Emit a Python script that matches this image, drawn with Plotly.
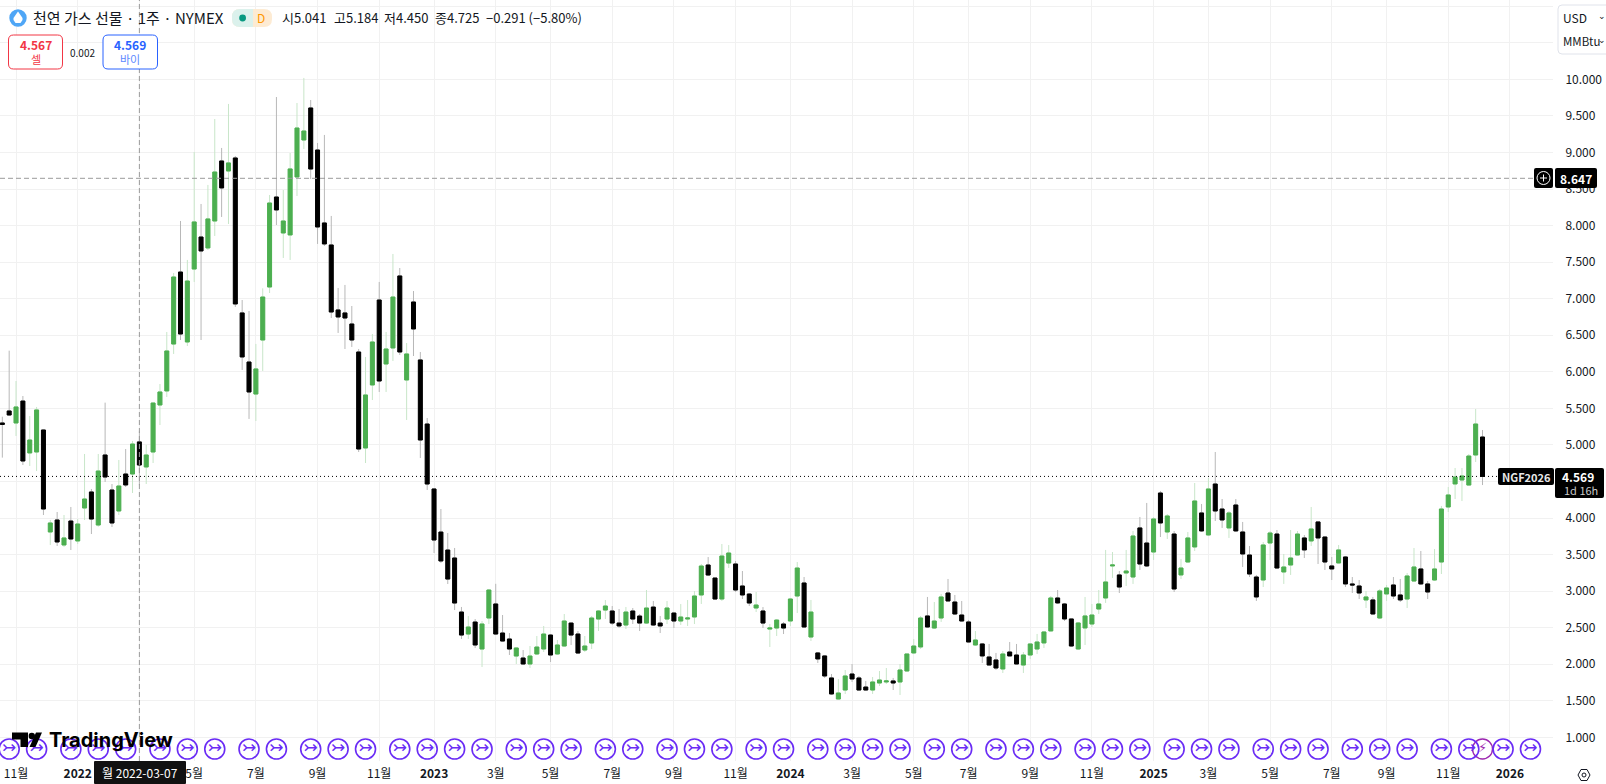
import numpy as np
import pandas as pd
import plotly.graph_objects as go

# weekly bars, NGF2026 natural gas
first_week = "2021-10-18"
opens = [
    5.30, 5.464, 5.30, 5.60, 4.89, 4.903, 5.204, 3.809, 3.973, 3.631,
    3.959, 3.686, 4.137, 4.356, 3.904, 4.862, 4.383, 4.096, 4.602, 4.602,
    5.041, 4.698, 4.903, 5.546, 5.738, 6.38, 7.365, 6.408, 7.406, 7.844,
    7.694, 8.063, 8.884, 8.747, 8.925, 6.805, 6.134, 5.696, 6.435, 7.16,
    8.391, 7.899, 7.872, 8.665, 9.171, 9.609, 9.034, 8.036, 7.735, 6.846,
    6.805, 6.654, 6.271, 4.958, 5.82, 6.982, 6.107, 6.326, 7.311, 5.888,
    6.955, 6.162, 5.286, 4.397, 3.808, 3.562, 3.453, 2.714, 2.413, 2.577,
    2.208, 2.632, 2.824, 2.427, 2.345, 2.112, 2.085, 2.003, 2.14, 2.208,
    2.399, 2.14, 2.249, 2.563, 2.413, 2.194, 2.29, 2.618, 2.741, 2.728,
    2.563, 2.536, 2.728, 2.659, 2.563, 2.782, 2.563, 2.618, 2.70, 2.591,
    2.618, 2.646, 2.947, 3.357, 3.179, 2.892, 3.384, 3.371, 3.07, 2.96,
    2.769, 2.728, 2.481, 2.495, 2.55, 2.591, 2.933, 3.111, 2.372, 2.154,
    2.113, 1.812, 1.524, 1.647, 1.866, 1.812, 1.688, 1.647, 1.743, 1.757,
    1.771, 1.757, 1.907, 2.154, 2.236, 2.66, 2.495, 2.632, 2.974, 2.851,
    2.673, 2.578, 2.263, 2.277, 2.099, 2.058, 1.935, 2.167, 2.126, 1.989,
    2.126, 2.208, 2.291, 2.455, 2.906, 2.824, 2.619, 2.208, 2.496, 2.55,
    2.755, 2.906, 3.344, 3.221, 3.248, 3.193, 3.864, 3.658, 3.535, 4.342,
    3.809, 3.781, 3.221, 3.398, 3.604, 4.069, 3.768, 4.465, 4.123, 3.864,
    4.178, 3.809, 3.494, 3.193, 3.152, 3.658, 3.781, 3.262, 3.357, 3.494,
    3.727, 3.686, 3.946, 3.74, 3.344, 3.385, 3.467, 3.098, 3.07, 2.879,
    2.879, 2.632, 2.961, 3.084, 2.947, 2.892, 3.138, 3.303, 3.098, 3.152,
    3.398, 4.151, 4.466, 4.52, 4.451, 4.862, 5.108,
]
highs = [
    5.386, 6.289, 5.874, 5.669, 5.395, 5.519, 5.21, 3.973, 4.082, 4.041,
    4.151, 3.986, 4.876, 4.397, 4.876, 5.578, 4.465, 4.794, 4.944, 5.054,
    5.184, 5.0, 5.58, 5.833, 6.545, 7.352, 8.063, 7.53, 9.007, 8.296,
    8.556, 9.458, 9.062, 9.664, 8.952, 6.982, 6.832, 6.381, 7.142, 8.419,
    9.759, 8.487, 8.993, 9.677, 10.02, 9.718, 9.13, 9.24, 8.132, 7.147,
    7.188, 6.9, 6.312, 6.203, 6.517, 7.229, 6.545, 7.612, 7.42, 6.394,
    7.105, 6.271, 5.368, 4.41, 4.123, 3.795, 3.59, 2.783, 2.659, 2.618,
    2.591, 3.029, 3.10, 2.673, 2.427, 2.23, 2.194, 2.249, 2.386, 2.523,
    2.413, 2.331, 2.687, 2.57, 2.454, 2.386, 2.659, 2.741, 2.878, 2.796,
    2.755, 2.783, 2.769, 2.687, 3.015, 2.865, 2.659, 2.865, 2.714, 2.823,
    2.878, 3.001, 3.371, 3.466, 3.18, 3.644, 3.63, 3.412, 3.275, 2.97,
    2.988, 2.782, 2.55, 2.618, 2.577, 2.906, 3.398, 3.193, 2.879, 2.167,
    2.12, 1.866, 1.798, 1.921, 2.003, 1.839, 1.771, 1.825, 1.907, 1.948,
    1.812, 2.003, 2.14, 2.345, 2.66, 2.92, 2.851, 2.961, 3.166, 2.947,
    2.865, 2.605, 2.454, 2.29, 2.277, 2.154, 2.181, 2.304, 2.277, 2.167,
    2.28, 2.414, 2.455, 2.933, 3.015, 2.838, 2.62, 2.578, 2.92, 2.824,
    3.015, 3.563, 3.535, 3.275, 3.563, 3.822, 4.014, 4.206, 4.014, 4.37,
    4.055, 3.822, 3.44, 3.809, 4.479, 4.192, 4.548, 4.903, 4.26, 4.096,
    4.26, 3.946, 3.617, 3.221, 3.672, 3.822, 3.836, 3.508, 3.836, 3.822,
    3.768, 4.151, 3.95, 3.745, 3.467, 3.631, 3.481, 3.193, 3.152, 3.002,
    2.92, 3.029, 3.084, 3.193, 3.166, 3.248, 3.59, 3.549, 3.138, 3.576,
    4.165, 4.424, 4.684, 4.684, 4.875, 5.491, 5.204,
]
lows = [
    4.826, 5.40, 5.122, 4.725, 4.711, 4.643, 4.041, 3.631, 3.617, 3.603,
    3.562, 3.644, 3.973, 3.781, 3.88, 4.493, 3.877, 4.041, 4.424, 4.342,
    4.45, 4.465, 4.752, 5.272, 5.655, 6.244, 6.435, 6.353, 7.229, 6.435,
    7.666, 7.858, 8.118, 8.022, 6.887, 6.025, 5.355, 5.327, 6.011, 7.078,
    8.008, 7.557, 7.53, 8.405, 9.048, 8.638, 7.749, 7.721, 6.736, 6.531,
    6.312, 6.34, 4.903, 4.752, 5.614, 5.724, 5.724, 6.148, 6.23, 5.341,
    6.216, 4.821, 4.383, 3.521, 3.384, 3.097, 2.741, 2.345, 2.345, 2.222,
    1.962, 2.55, 2.40, 2.31, 2.126, 2.003, 1.989, 1.948, 2.126, 2.167,
    2.03, 2.13, 2.24, 2.263, 2.14, 2.167, 2.208, 2.454, 2.618, 2.536,
    2.495, 2.481, 2.55, 2.454, 2.55, 2.523, 2.427, 2.55, 2.495, 2.536,
    2.523, 2.55, 2.824, 3.206, 2.878, 2.865, 3.316, 2.988, 2.892, 2.796,
    2.714, 2.495, 2.235, 2.386, 2.413, 2.523, 2.70, 2.50, 2.318, 2.017,
    1.812, 1.579, 1.52, 1.593, 1.757, 1.64, 1.64, 1.593, 1.702, 1.73,
    1.647, 1.579, 1.90, 2.14, 2.208, 2.50, 2.482, 2.578, 2.86, 2.673,
    2.585, 2.30, 2.249, 2.017, 1.985, 1.921, 1.88, 2.11, 2.0, 1.88,
    2.072, 2.14, 2.222, 2.45, 2.824, 2.591, 2.24, 2.194, 2.263, 2.509,
    2.687, 2.838, 3.18, 2.974, 3.07, 3.098, 3.289, 3.33, 3.426, 3.74,
    3.713, 2.988, 3.166, 3.39, 3.549, 3.809, 3.754, 3.959, 3.864, 3.727,
    3.809, 3.33, 3.193, 2.865, 3.056, 3.426, 3.303, 3.098, 3.221, 3.49,
    3.453, 3.617, 3.371, 3.289, 3.152, 3.38, 3.056, 2.974, 2.892, 2.769,
    2.68, 2.619, 2.865, 2.892, 2.851, 2.769, 3.13, 3.084, 2.892, 3.138,
    3.234, 4.082, 4.26, 4.232, 4.445, 4.766, 4.451,
]
closes = [
    5.28, 5.409, 5.519, 4.78, 5.067, 5.478, 4.123, 3.932, 3.672, 3.727,
    3.713, 3.918, 4.26, 3.986, 4.643, 4.561, 3.932, 4.438, 4.452, 5.012,
    4.725, 4.862, 5.573, 5.724, 6.285, 7.297, 6.517, 7.242, 8.05, 7.653,
    8.091, 8.733, 8.515, 8.857, 6.928, 6.203, 5.724, 6.039, 7.023, 8.309,
    8.214, 8.063, 8.775, 9.335, 9.294, 8.774, 7.981, 7.749, 6.818, 6.75,
    6.736, 6.435, 4.944, 5.683, 6.408, 5.874, 6.312, 7.023, 6.271, 6.244,
    6.586, 5.067, 4.465, 3.699, 3.412, 3.165, 2.837, 2.399, 2.509, 2.263,
    2.55, 3.015, 2.413, 2.317, 2.208, 2.222, 2.003, 2.112, 2.235, 2.413,
    2.126, 2.263, 2.591, 2.399, 2.153, 2.249, 2.632, 2.728, 2.796, 2.563,
    2.523, 2.714, 2.618, 2.563, 2.769, 2.536, 2.523, 2.769, 2.591, 2.646,
    2.632, 2.933, 3.343, 3.22, 2.892, 3.48, 3.521, 3.015, 2.947, 2.837,
    2.81, 2.563, 2.495, 2.604, 2.495, 2.892, 3.316, 2.509, 2.714, 2.072,
    1.839, 1.593, 1.606, 1.839, 1.798, 1.647, 1.647, 1.757, 1.784, 1.771,
    1.743, 1.921, 2.14, 2.249, 2.632, 2.509, 2.591, 2.92, 2.865, 2.687,
    2.591, 2.304, 2.331, 2.113, 1.989, 1.948, 2.14, 2.113, 2.003, 2.126,
    2.277, 2.304, 2.441, 2.906, 2.838, 2.619, 2.249, 2.564, 2.66, 2.673,
    2.824, 3.125, 3.357, 3.056, 3.275, 3.754, 3.371, 3.344, 3.987, 3.932,
    4.028, 3.029, 3.316, 3.727, 4.233, 3.823, 4.397, 4.096, 3.973, 4.069,
    3.823, 3.508, 3.234, 2.92, 3.631, 3.795, 3.316, 3.33, 3.453, 3.781,
    3.563, 3.85, 3.727, 3.398, 3.303, 3.563, 3.098, 3.084, 2.974, 2.92,
    2.687, 3.002, 3.043, 2.933, 2.879, 3.207, 3.33, 3.098, 2.988, 3.303,
    4.123, 4.315, 4.561, 4.575, 4.848, 5.286, 4.569,
]

# x axis ticks (the first March label sits under the crosshair date tag)
tick_dates = [
    "2021-11-01", "2022-01-03", "2022-03-07", "2022-05-02", "2022-07-04", "2022-09-05", "2022-11-07",
    "2023-01-02", "2023-03-06", "2023-05-01", "2023-07-03", "2023-09-04", "2023-11-06",
    "2024-01-01", "2024-03-04", "2024-05-06", "2024-07-01", "2024-09-02", "2024-11-04",
    "2025-01-06", "2025-03-03", "2025-05-05", "2025-07-07", "2025-09-01", "2025-11-03", "2026-01-05",
]
tick_labels = [
    "11월", "<b>2022</b>", "", "5월", "7월", "9월", "11월",
    "<b>2023</b>", "3월", "5월", "7월", "9월", "11월",
    "<b>2024</b>", "3월", "5월", "7월", "9월", "11월",
    "<b>2025</b>", "3월", "5월", "7월", "9월", "11월", "<b>2026</b>",
]
price_ticks = [1.0, 1.5, 2.0, 2.5, 3.0, 3.5, 4.0, 4.5, 5.0, 5.5, 6.0, 6.5, 7.0, 7.5, 8.0, 8.5, 9.0, 9.5, 10.0, 10.5, 11.0]
price_labels = [f"{v:.3f}" if v <= 10 and v != 4.5 else "" for v in price_ticks]

# contract roll marks along the bottom of the chart
roll_dates = [
    "2021-10-25", "2021-11-22", "2021-12-27", "2022-01-24", "2022-02-21", "2022-03-28", "2022-04-25",
    "2022-05-23", "2022-06-27", "2022-07-25", "2022-08-29", "2022-09-26", "2022-10-24", "2022-11-28",
    "2022-12-26", "2023-01-23", "2023-02-20", "2023-03-27", "2023-04-24", "2023-05-22", "2023-06-26",
    "2023-07-24", "2023-08-28", "2023-09-25", "2023-10-23", "2023-11-27", "2023-12-25", "2024-01-29",
    "2024-02-26", "2024-03-25", "2024-04-22", "2024-05-27", "2024-06-24", "2024-07-29", "2024-08-26",
    "2024-09-23", "2024-10-28", "2024-11-25", "2024-12-23", "2025-01-27", "2025-02-24", "2025-03-24",
    "2025-04-28", "2025-05-26", "2025-06-23", "2025-07-28", "2025-08-25", "2025-09-22", "2025-10-27",
    "2025-11-24", "2025-12-29", "2026-01-26",
]
flash_dates = ["2025-12-08"]

last_price = 4.569
cursor_price = 8.647
cursor_date = "2022-03-07"

GREEN = "#4caf50"
GREEN_WICK = "#c8e6c9"
BLACK = "#000000"
BLACK_WICK = "#b8b8b8"
PURPLE = "#6a2cf5"
MAGENTA = "#9c27b0"
GRID = "#f1f1f1"
CROSS = "#9a9a9a"
FONT = "Noto Sans CJK KR"

W, H = 1606, 784
PLOT_R, PLOT_B = 1553, 761


def px(x, y):
    return x / PLOT_R, 1 - y / PLOT_B


def label(x, y, text, size=12, color="#131722", anchor="left", family=FONT):
    fx, fy = px(x, y)
    return dict(xref="paper", yref="paper", x=fx, y=fy, text=text, showarrow=False,
                xanchor=anchor, yanchor="middle", borderpad=0,
                font=dict(family=family, size=size, color=color))


def poly(points, fill, line_color=None, line_width=0):
    path = "M " + " L ".join("{} {}".format(*px(a, b)) for a, b in points) + " Z"
    return dict(type="path", xref="paper", yref="paper", path=path, fillcolor=fill,
                line=dict(width=line_width, color=line_color or fill))


def round_box(x0, y0, x1, y1, r, fill, line_color=None, line_width=0):
    pts = [
        ("M", x0 + r, y0), ("L", x1 - r, y0), ("Q", x1, y0, x1, y0 + r), ("L", x1, y1 - r),
        ("Q", x1, y1, x1 - r, y1), ("L", x0 + r, y1), ("Q", x0, y1, x0, y1 - r),
        ("L", x0, y0 + r), ("Q", x0, y0, x0 + r, y0),
    ]
    parts = []
    for p in pts:
        coords = p[1:]
        conv = []
        for i in range(0, len(coords), 2):
            conv.extend(px(coords[i], coords[i + 1]))
        parts.append(p[0] + " " + " ".join(str(c) for c in conv))
    return dict(type="path", xref="paper", yref="paper", path=" ".join(parts) + " Z",
                fillcolor=fill, line=dict(width=line_width, color=line_color or fill))


def circle(cx, cy, r, fill, line_color=None, line_width=0):
    fx0, fy0 = px(cx - r, cy - r)
    fx1, fy1 = px(cx + r, cy + r)
    return dict(type="circle", xref="paper", yref="paper", x0=fx0, y0=fy0, x1=fx1, y1=fy1,
                fillcolor=fill, line=dict(width=line_width, color=line_color or fill))


def seg(x0, y0, x1, y1, color, width=1):
    fx0, fy0 = px(x0, y0)
    fx1, fy1 = px(x1, y1)
    return dict(type="line", xref="paper", yref="paper", x0=fx0, y0=fy0, x1=fx1, y1=fy1,
                line=dict(color=color, width=width))


weeks = pd.date_range(first_week, periods=len(opens), freq="7D")
body_top = np.maximum(opens, closes)
body_bot = np.minimum(opens, closes)

fig = go.Figure()

# wicks are paler than the bodies, so they get their own candle layer
fig.add_trace(go.Candlestick(
    x=weeks, open=opens, high=highs, low=lows, close=closes,
    increasing=dict(line=dict(color=GREEN_WICK, width=1), fillcolor="rgba(0,0,0,0)"),
    decreasing=dict(line=dict(color=BLACK_WICK, width=1), fillcolor="rgba(0,0,0,0)"),
    whiskerwidth=0, hoverinfo="skip", showlegend=False,
))
fig.add_trace(go.Candlestick(
    x=weeks, open=opens, high=body_top, low=body_bot, close=closes,
    increasing=dict(line=dict(color=GREEN, width=1), fillcolor=GREEN),
    decreasing=dict(line=dict(color=BLACK, width=1), fillcolor=BLACK),
    whiskerwidth=0, hoverinfo="skip", showlegend=False,
))

MARK_Y = 0.84
fig.add_trace(go.Scatter(
    x=flash_dates, y=[MARK_Y] * len(flash_dates), mode="markers+text", text=["⚡"] * len(flash_dates),
    textposition="middle center", textfont=dict(family="DejaVu Sans", size=13, color=MAGENTA),
    marker=dict(symbol="circle", size=20, color="rgba(0,0,0,0)", line=dict(color=MAGENTA, width=1.4)),
    hoverinfo="skip", showlegend=False,
))
fig.add_trace(go.Scatter(
    x=roll_dates, y=[MARK_Y] * len(roll_dates), mode="markers+text", text=["↣"] * len(roll_dates),
    textposition="middle center", textfont=dict(family="DejaVu Sans", size=17, color=PURPLE),
    marker=dict(symbol="circle", size=20, color="rgba(0,0,0,0)", line=dict(color=PURPLE, width=1.6)),
    hoverinfo="skip", showlegend=False,
))

shapes = [
    # crosshair and last price line
    dict(type="line", xref="x", yref="paper", x0=cursor_date, x1=cursor_date, y0=0, y1=1,
         line=dict(color=CROSS, width=1, dash="5px,3px")),
    dict(type="line", xref="paper", yref="y", x0=0, x1=1, y0=cursor_price, y1=cursor_price,
         line=dict(color=CROSS, width=1, dash="5px,3px")),
    dict(type="line", xref="paper", yref="y", x0=0, x1=1498 / PLOT_R, y0=last_price, y1=last_price,
         line=dict(color="#000000", width=1, dash="1px,3px")),
    # price scale tags
    round_box(1498, 468, 1554, 485, 2, "#000000"),
    round_box(1555, 468, 1604, 498, 2, "#000000"),
    round_box(1555, 168, 1597, 188, 2, "#000000"),
    round_box(1534, 168, 1553, 188, 2, "#000000"),
    circle(1543.5, 178, 6.5, "#000000", "#ffffff", 1),
    seg(1540, 178, 1547, 178, "#ffffff"),
    seg(1543.5, 174.5, 1543.5, 181.5, "#ffffff"),
    # crosshair date tag
    round_box(94, 761, 186, 784, 1, "#111111"),
    # top-left legend icon and pill
    circle(18, 18, 8.7, "#4fa6f6"),
    poly([(18, 11.5), (22.5, 18), (22.5, 20), (20.5, 23), (15.5, 23), (13.5, 20), (13.5, 18)], "#ffffff"),
    round_box(232, 9, 272, 27, 8, "#fdebd3"),
    round_box(232, 9, 256, 27, 8, "#dbf1ec"),
    poly([(246, 9), (253, 9), (253, 27), (246, 27)], "#dbf1ec"),
    poly([(253, 9), (258, 9), (258, 27), (253, 27)], "#fdebd3"),
    circle(242.6, 18, 3.4, "#089981"),
    # sell / buy boxes
    round_box(8.5, 35, 62.5, 69, 5, "#ffffff", "#f23645", 1),
    round_box(103, 35, 157.5, 69, 5, "#ffffff", "#2962ff", 1),
    # currency / unit box
    round_box(1558, 5, 1612, 54, 4, "#ffffff", "#e0e3eb", 1),
    # TradingView logo
    poly([(12, 732.5), (28, 732.5), (28, 747), (20.5, 747), (20.5, 739.5), (12, 739.5)], "#000000"),
    circle(31.8, 736, 3.2, "#000000"),
    poly([(42, 732.5), (35.5, 747), (29.5, 747), (36, 732.5)], "#000000"),
    # settings icon
    poly([(1578, 775), (1581, 769.5), (1587, 769.5), (1590, 775), (1587, 780.5), (1581, 780.5)],
         "rgba(0,0,0,0)", "#131722", 1),
    circle(1584, 775, 2, "rgba(0,0,0,0)", "#131722", 1),
]

annotations = [
    label(32, 18, "천연 가스 선물 · 1주 · NYMEX", size=15),
    label(261, 18, "D", size=12, color="#ff9800", anchor="center"),
    label(280.5, 18, "시5.041", size=13),
    label(333, 18, "고5.184", size=13),
    label(383, 18, "저4.450", size=13),
    label(434, 18, "종4.725", size=13),
    label(485, 18, "−0.291 (−5.80%)", size=13),
    label(35.5, 45, "<b>4.567</b>", size=12, color="#f23645", anchor="center"),
    label(35.5, 59, "셀", size=11, color="#f23645", anchor="center"),
    label(82.7, 52, "0.002", size=10, anchor="center"),
    label(130, 45, "<b>4.569</b>", size=12, color="#2962ff", anchor="center"),
    label(130, 59, "바이", size=11, color="#5b87ff", anchor="center"),
    label(1562, 17, "USD", size=12),
    label(1602, 16, "⌄", size=9, anchor="center", family="DejaVu Sans"),
    label(1562, 41, "MMBtu", size=11.5),
    label(1602, 40, "⌄", size=9, anchor="center", family="DejaVu Sans"),
    label(1576, 178, "<b>8.647</b>", size=12, color="#ffffff", anchor="center"),
    label(1526, 476.5, "<b>NGF2026</b>", size=11, color="#e8e8e8", anchor="center"),
    label(1578, 476.5, "<b>4.569</b>", size=12, color="#ffffff", anchor="center"),
    label(1581, 490, "1d 16h", size=11, color="#c8c8c8", anchor="center"),
    label(140, 773, "월 2022-03-07", size=12, color="#ffffff", anchor="center"),
    label(48, 740, "<b>TradingView</b>", size=20, color="#000000", family="Inter"),
]

fig.update_layout(
    width=W, height=H,
    margin=dict(l=0, r=W - PLOT_R, t=0, b=H - PLOT_B),
    paper_bgcolor="#ffffff", plot_bgcolor="#ffffff",
    boxgap=0.42, boxgroupgap=0, showlegend=False, hovermode=False,
    font=dict(family=FONT, size=12, color="#131722"),
    shapes=shapes, annotations=annotations,
)
fig.update_xaxes(
    type="date", range=["2021-10-15 15:00", "2026-02-18"], rangeslider_visible=False,
    tickmode="array", tickvals=tick_dates, ticktext=tick_labels, tickangle=0,
    showgrid=True, gridcolor=GRID, gridwidth=1, zeroline=False, showline=False,
    ticks="outside", ticklen=2, tickcolor="#ffffff", tickfont=dict(family=FONT, size=12, color="#131722"),
)
fig.update_yaxes(
    side="right", range=[0.676, 11.086], tickmode="array", tickvals=price_ticks, ticktext=price_labels,
    showgrid=True, gridcolor=GRID, gridwidth=1, zeroline=False, showline=False,
    ticks="outside", ticklen=9, tickcolor="#ffffff", tickfont=dict(family=FONT, size=12, color="#131722"),
)

fig.write_html("out.html", config={"displayModeBar": False},
               post_script="document.body.style.margin='0';document.body.style.overflow='hidden';")
